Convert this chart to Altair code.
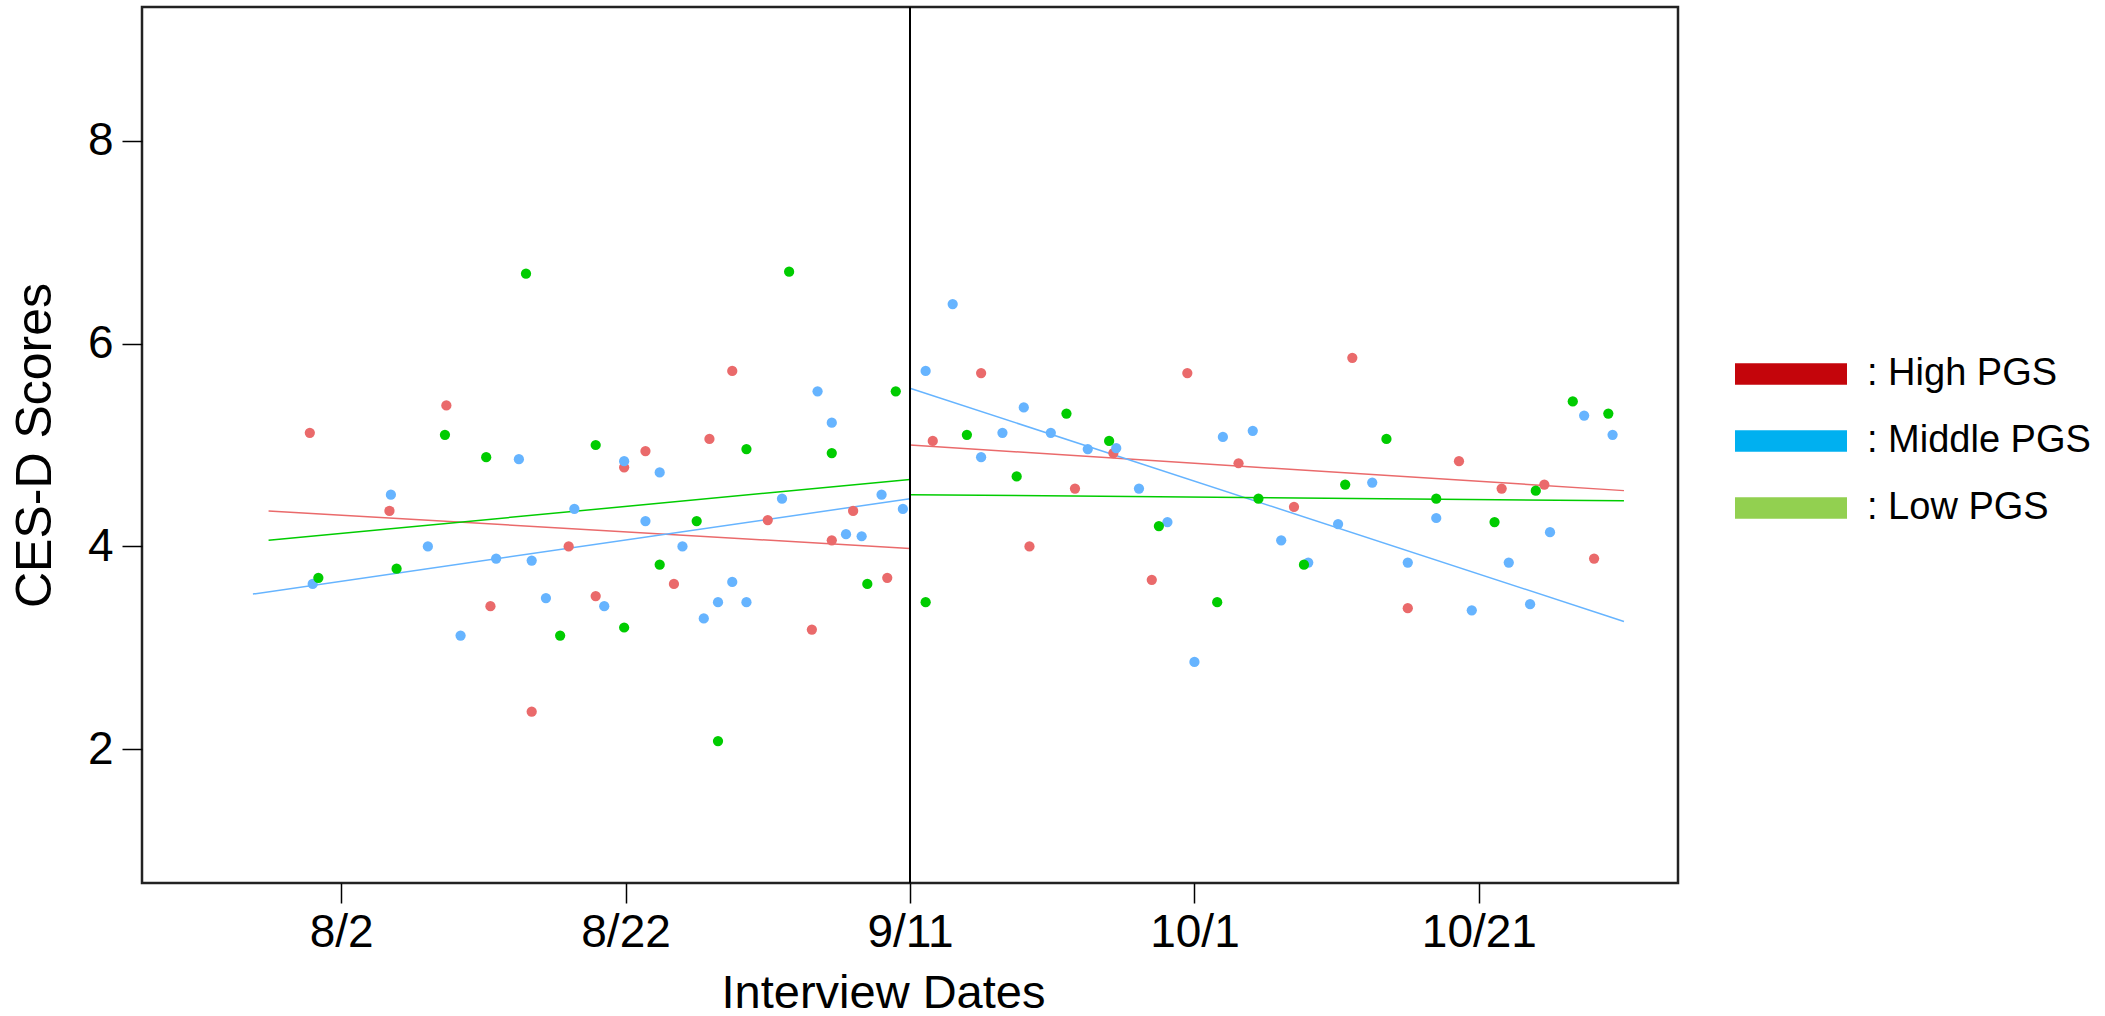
import altair as alt
import pandas as pd

# ---------------- data (days relative to 9/11) ----------------
groups = ["High PGS", "Middle PGS", "Low PGS"]
legend_labels = [": High PGS", ": Middle PGS", ": Low PGS"]
point_colors = ["#EA6A6B", "#66B4FF", "#00CC00"]
legend_colors = ["#C4050B", "#00B0F0", "#92D050"]

high_day = [-42.2, -36.6, -32.6, -29.5, -26.6, -24.0, -22.1, -20.1, -18.6, -16.6, -14.1, -12.5,
            -10.0, -6.9, -5.5, -4.0, -1.6,
            1.6, 5.0, 8.4, 11.6, 14.3, 17.0, 19.5, 23.1, 27.0, 31.1, 35.0, 38.6, 41.6, 44.6, 48.1]
high_score = [5.12, 4.35, 5.39, 3.41, 2.37, 4.00, 3.51, 4.78, 4.94, 3.63, 5.06, 5.73,
              4.26, 3.18, 4.06, 4.35, 3.69,
              5.04, 5.71, 4.00, 4.57, 4.92, 3.67, 5.71, 4.82, 4.39, 5.86, 3.39, 4.84, 4.57, 4.61, 3.88]

mid_day = [-42.0, -36.5, -33.9, -31.6, -29.1, -27.5, -26.6, -25.6, -23.6, -21.5, -20.1, -18.6,
           -17.6, -16.0, -14.5, -13.5, -12.5, -11.5, -9.0, -6.5, -5.5, -4.5, -3.4, -2.0, -0.5,
           1.1, 3.0, 5.0, 6.5, 8.0, 9.9, 12.5, 14.5, 16.1, 18.1, 20.0, 22.0, 24.1, 26.1, 28.0,
           30.1, 32.5, 35.0, 37.0, 39.5, 42.1, 43.6, 45.0, 47.4, 49.4]
mid_score = [3.63, 4.51, 4.00, 3.12, 3.88, 4.86, 3.86, 3.49, 4.37, 3.41, 4.84, 4.25,
             4.73, 4.00, 3.29, 3.45, 3.65, 3.45, 4.47, 5.53, 5.22, 4.12, 4.10, 4.51, 4.37,
             5.73, 6.39, 4.88, 5.12, 5.37, 5.12, 4.96, 4.97, 4.57, 4.24, 2.86, 5.08, 5.14, 4.06, 3.84,
             4.22, 4.63, 3.84, 4.28, 3.37, 3.84, 3.43, 4.14, 5.29, 5.10]

low_day = [-41.6, -36.1, -32.7, -29.8, -27.0, -24.6, -22.1, -20.1, -17.6, -15.0, -13.5, -11.5,
           -8.5, -5.5, -3.0, -1.0,
           1.1, 4.0, 7.5, 11.0, 14.0, 17.5, 21.6, 24.5, 27.7, 30.6, 33.5, 37.0, 41.1, 44.0, 46.6, 49.1]
low_score = [3.69, 3.78, 5.10, 4.88, 6.69, 3.12, 5.00, 3.20, 3.82, 4.25, 2.08, 4.96,
             6.71, 4.92, 3.63, 5.53,
             3.45, 5.10, 4.69, 5.31, 5.04, 4.20, 3.45, 4.47, 3.82, 4.61, 5.06, 4.47, 4.24, 4.55, 5.43, 5.31]

# fitted segments (before / after 9/11)
fit_group = ["High PGS", "High PGS", "Middle PGS", "Middle PGS", "Low PGS", "Low PGS"]
fit_day_start = [-45.1, 0.0, -46.2, 0.0, -45.1, 0.0]
fit_day_end = [0.0, 50.2, 0.0, 50.2, 0.0, 50.2]
fit_score_start = [4.35, 5.00, 3.53, 5.56, 4.06, 4.51]
fit_score_end = [3.98, 4.55, 4.47, 3.26, 4.66, 4.45]

tick_days = [-40, -20, 0, 20, 40]
tick_labels = ["8/2", "8/22", "9/11", "10/1", "10/21"]
score_ticks = [2, 4, 6, 8]
event_day = [0]

# ---------------- tables ----------------
points = pd.concat([
    pd.DataFrame({"day": high_day, "score": high_score, "group": "High PGS"}),
    pd.DataFrame({"day": mid_day, "score": mid_score, "group": "Middle PGS"}),
    pd.DataFrame({"day": low_day, "score": low_score, "group": "Low PGS"}),
], ignore_index=True)
fits = pd.DataFrame({"group": fit_group, "d0": fit_day_start, "d1": fit_day_end,
                     "s0": fit_score_start, "s1": fit_score_end})
vline = pd.DataFrame({"day": event_day})
legend_df = pd.DataFrame({"label": legend_labels})

FONT = "Liberation Sans"
W, H = 1536, 876

label_expr = "".join(f"datum.value == {d} ? '{l}' : " for d, l in zip(tick_days, tick_labels)) + "''"

xscale = alt.Scale(domain=[-54, 54], nice=False, zero=False)
yscale = alt.Scale(domain=[0.68, 9.32], nice=False, zero=False)
cscale = alt.Scale(domain=groups, range=point_colors)

xaxis = alt.Axis(values=tick_days, labelExpr=label_expr, title="Interview Dates",
                 grid=False, domain=False, tickSize=20, tickWidth=1.5, tickColor="#000000",
                 labelFont=FONT, labelFontSize=46, labelColor="#000000", labelPadding=7,
                 titleFont=FONT, titleFontSize=47, titleFontWeight="normal", titleColor="#000000",
                 titleX=741, titleY=124, titleBaseline="alphabetic", titleAlign="center")
yaxis = alt.Axis(values=score_ticks, format="d", title="CES-D Scores", grid=False, domain=False,
                 tickSize=20, tickWidth=1.5, tickColor="#000000",
                 labelFont=FONT, labelFontSize=46, labelColor="#000000", labelPadding=9,
                 titleFont=FONT, titleFontSize=50, titleFontWeight="normal", titleColor="#000000",
                 titleX=-107, titleY=438, titleBaseline="middle", titleAlign="center", titleAngle=270)

fit_layer = alt.Chart(fits).mark_rule(strokeWidth=1.5).encode(
    x=alt.X("d0:Q", scale=xscale, axis=xaxis),
    x2="d1:Q",
    y=alt.Y("s0:Q", scale=yscale, axis=yaxis),
    y2="s1:Q",
    color=alt.Color("group:N", scale=cscale, legend=None),
)

pt_layer = alt.Chart(points).mark_circle(size=105, opacity=1).encode(
    x=alt.X("day:Q", scale=xscale),
    y=alt.Y("score:Q", scale=yscale),
    color=alt.Color("group:N", scale=cscale, legend=None),
)

vline_layer = alt.Chart(vline).mark_rule(color="#000000", strokeWidth=2).encode(
    x=alt.X("day:Q", scale=xscale),
)

rect_path = "M-1,-0.19L1,-0.19L1,0.19L-1,0.19Z"
legend_layer = alt.Chart(legend_df).mark_point(filled=True, opacity=0, size=0).encode(
    color=alt.Color("label:N",
                    scale=alt.Scale(domain=legend_labels, range=legend_colors),
                    legend=alt.Legend(title=None, orient="none", legendX=1593, legendY=348,
                                      symbolType=rect_path, symbolSize=12544,
                                      symbolOpacity=1, symbolStrokeWidth=0,
                                      clipHeight=38, rowPadding=29, padding=0,
                                      labelFont=FONT, labelFontSize=38, labelColor="#000000",
                                      labelOffset=20, labelLimit=400)),
)

chart = alt.layer(fit_layer, pt_layer, vline_layer, legend_layer).resolve_scale(
    color="independent"
).properties(
    width=W, height=H,
    autosize=alt.AutoSizeParams(type="none"),
    padding={"left": 142, "top": 7, "right": 427, "bottom": 133},
    background="#FFFFFF",
).configure_view(stroke="#222222", strokeWidth=2.5)

chart.save("out.html", embed_options={"renderer": "svg", "actions": False})
